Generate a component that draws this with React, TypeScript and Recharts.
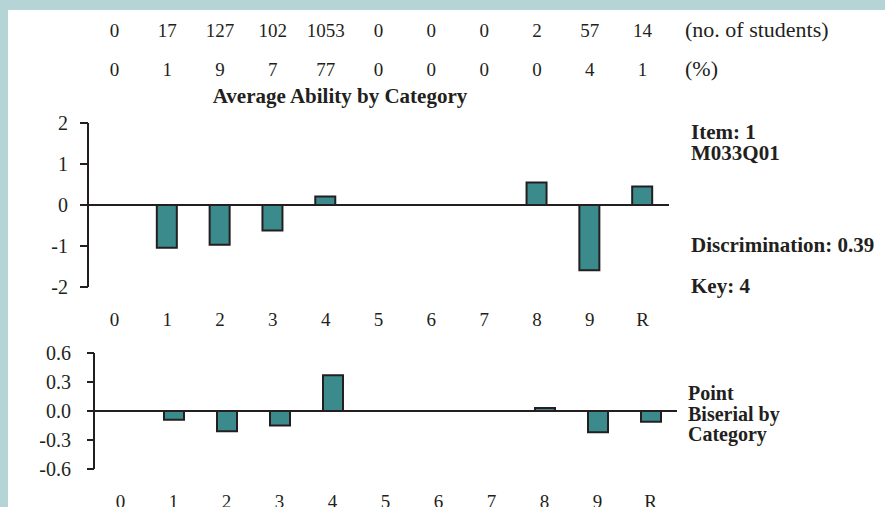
import React from 'react';
import { BarChart, Bar, XAxis, YAxis, ReferenceLine } from 'recharts';

const categories = ['0', '1', '2', '3', '4', '5', '6', '7', '8', '9', 'R'];
const studentCounts = [0, 17, 127, 102, 1053, 0, 0, 0, 2, 57, 14];
const studentPercents = [0, 1, 9, 7, 77, 0, 0, 0, 0, 4, 1];
const averageAbility = [null, -1.04, -0.97, -0.62, 0.21, null, null, null, 0.55, -1.59, 0.45];
const pointBiserial = [null, -0.09, -0.21, -0.15, 0.37, null, null, null, 0.03, -0.22, -0.11];
const abilityTicks = [-2, -1, 0, 1, 2];
const biserialTicks = [-0.6, -0.3, 0, 0.3, 0.6];

const FONT = '"Liberation Serif", "Times New Roman", serif';
const INK = '#231f20';
const TEAL = '#3b8b8c';
const BORDER = '#b5d4d6';
const NUM_FS = 19;
const TICK_FS = 20;
const WORD_FS = 21;

const abilityData = categories.map((c, i) => ({ cat: c, value: averageAbility[i] }));
const biserialData = categories.map((c, i) => ({ cat: c, value: pointBiserial[i] }));

const CountTick = (props: any) => {
  const { x, payload } = props;
  const i = categories.indexOf(String(payload.value));
  return (
    <g>
      <text x={x} y={37} textAnchor="middle" fontFamily={FONT} fontSize={NUM_FS} fill={INK}>
        {studentCounts[i]}
      </text>
      <text x={x} y={76} textAnchor="middle" fontFamily={FONT} fontSize={NUM_FS} fill={INK}>
        {studentPercents[i]}
      </text>
    </g>
  );
};

const catTickStyle = { fontFamily: FONT, fontSize: NUM_FS, fill: INK };
const yTickStyle = { fontFamily: FONT, fontSize: TICK_FS, fill: INK };

export default function App() {
  return (
    <div
      style={{
        position: 'fixed',
        left: 0,
        top: 0,
        width: 885,
        height: 507,
        overflow: 'hidden',
        background: '#ffffff',
        fontFamily: FONT,
      }}
    >
      <div style={{ position: 'absolute', left: 0, top: 0, width: 885, height: 10, background: BORDER }} />
      <div style={{ position: 'absolute', left: 0, top: 0, width: 8, height: 507, background: BORDER }} />

      <div style={{ position: 'absolute', left: 0, top: 0 }}>
        <BarChart
          width={885}
          height={340}
          data={abilityData}
          margin={{ top: 0, right: 216, bottom: 13, left: 0 }}
          barSize={20}
          style={{ fontFamily: FONT }}
        >
          <XAxis
            xAxisId="top"
            orientation="top"
            dataKey="cat"
            height={123}
            axisLine={false}
            tickLine={false}
            interval={0}
            tick={<CountTick />}
          />
          <XAxis
            dataKey="cat"
            height={40}
            axisLine={false}
            tickLine={false}
            tickSize={0}
            tickMargin={26}
            interval={0}
            tick={catTickStyle}
          />
          <YAxis
            width={88}
            domain={[-2, 2]}
            ticks={abilityTicks}
            interval={0}
            tickSize={8}
            tickMargin={12}
            axisLine={{ stroke: INK, strokeWidth: 2 }}
            tickLine={{ stroke: INK, strokeWidth: 2 }}
            tick={yTickStyle}
          />
          <ReferenceLine y={0} stroke={INK} strokeWidth={2} />
          <Bar dataKey="value" fill={TEAL} stroke={INK} strokeWidth={2} isAnimationActive={false} />
        </BarChart>
      </div>

      <div style={{ position: 'absolute', left: 0, top: 335 }}>
        <BarChart
          width={885}
          height={172}
          data={biserialData}
          margin={{ top: 18, right: 208, bottom: 0, left: 0 }}
          barSize={20}
          style={{ fontFamily: FONT }}
        >
          <XAxis
            dataKey="cat"
            height={38}
            axisLine={false}
            tickLine={false}
            tickSize={0}
            tickMargin={26}
            interval={0}
            tick={catTickStyle}
          />
          <YAxis
            width={94}
            domain={[-0.6, 0.6]}
            ticks={biserialTicks}
            interval={0}
            tickSize={7}
            tickMargin={16}
            tickFormatter={(v: number) => v.toFixed(1)}
            axisLine={{ stroke: INK, strokeWidth: 2 }}
            tickLine={{ stroke: INK, strokeWidth: 2 }}
            tick={yTickStyle}
          />
          <ReferenceLine y={0} stroke={INK} strokeWidth={2} />
          <Bar dataKey="value" fill={TEAL} stroke={INK} strokeWidth={2} isAnimationActive={false} />
        </BarChart>
      </div>

      <svg
        width={885}
        height={507}
        style={{ position: 'absolute', left: 0, top: 0, pointerEvents: 'none' }}
        fontFamily={FONT}
        fontSize={WORD_FS}
        fill={INK}
      >
        <text x={685} y={37} fontSize={22}>(no. of students)</text>
        <text x={685} y={76} fontSize={22}>(%)</text>
        <text x={340} y={103} textAnchor="middle" fontWeight="bold">Average Ability by Category</text>
        <text x={691} y={139} fontWeight="bold">Item: 1</text>
        <text x={691} y={160} fontWeight="bold">M033Q01</text>
        <text x={691} y={252} fontWeight="bold">Discrimination: 0.39</text>
        <text x={691} y={293} fontWeight="bold">Key: 4</text>
        <text x={688} y={400} fontWeight="bold" fontSize={20}>Point</text>
        <text x={688} y={421} fontWeight="bold" fontSize={20}>Biserial by</text>
        <text x={688} y={441} fontWeight="bold" fontSize={20}>Category</text>
      </svg>
    </div>
  );
}
